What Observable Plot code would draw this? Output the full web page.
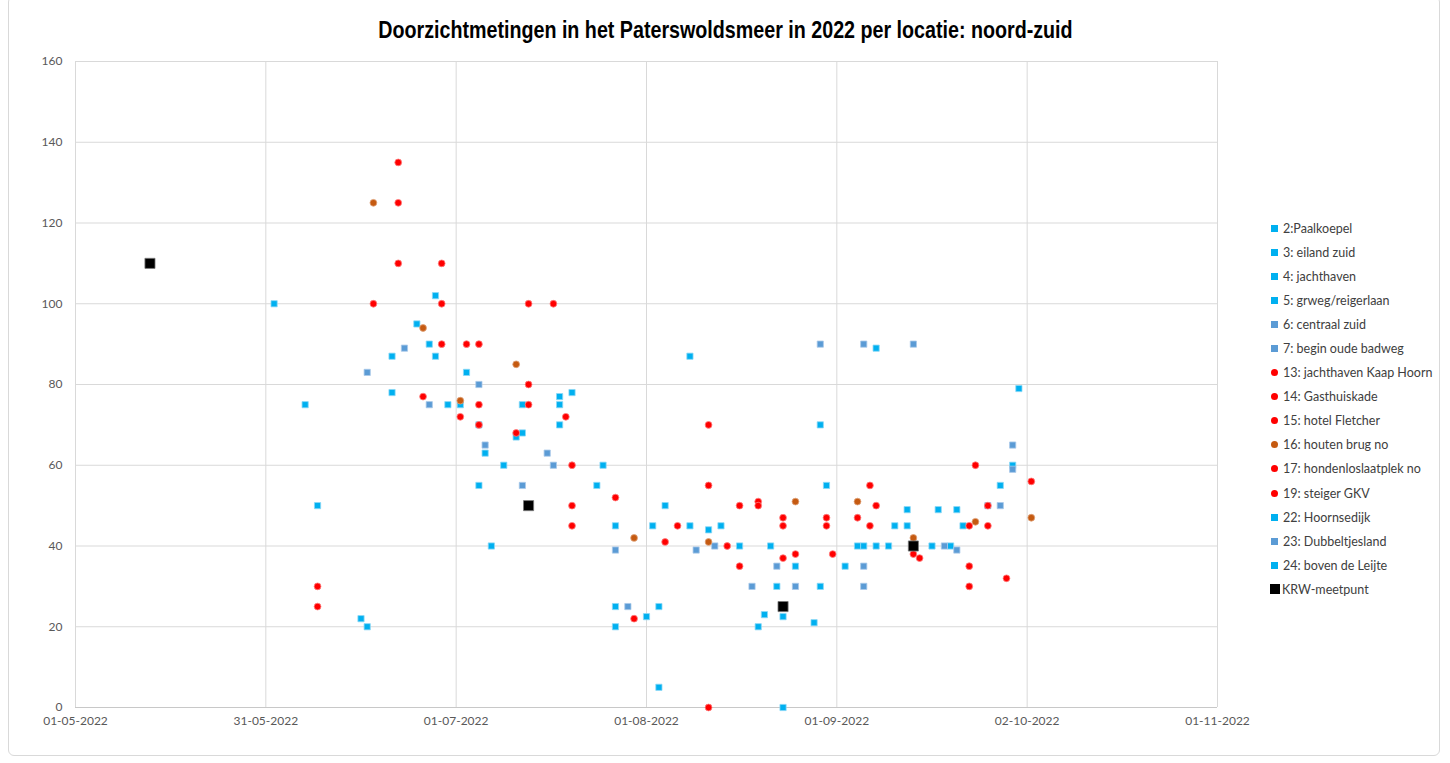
<!DOCTYPE html>
<html>
<head>
<meta charset="utf-8">
<script src="https://cdn.jsdelivr.net/npm/d3@7"></script>
<script src="https://cdn.jsdelivr.net/npm/@observablehq/plot@0.6"></script>
<style>
  html, body { margin: 0; padding: 0; background: #fff; }
  #wrap { position: relative; width: 1450px; height: 763px; overflow: hidden; }
  #frame { position: absolute; left: 8px; top: -4px; width: 1432px; height: 760px; border: 1px solid #d9d9d9; border-radius: 6px; box-sizing: border-box; }
  #title { position: relative; height: 48px; box-sizing: border-box; padding-top: 17px; text-align: center; }
  #title span { display: inline-block; transform: scaleX(0.82); transform-origin: center;
    font-family: "Liberation Sans Narrow", "Arial Narrow", "Liberation Sans", Arial, sans-serif; font-weight: bold; font-size: 24px; line-height: 26px; color: #000; white-space: nowrap; }
  #chart { position: relative; }
  #legend { position: absolute; left: 1271px; top: 216px; font-family: Lato, "Open Sans", sans-serif; font-size: 12.5px; color: #404040; }
  .item { height: 24.1px; display: flex; align-items: center; white-space: nowrap; }
  .mk { display: inline-block; width: 7px; height: 7px; margin-right: 5px; flex: none; }
  .mk.circle { border-radius: 50%; }
  .mk.big { width: 10px; height: 10px; margin-right: 2px; margin-left: -1px; }
</style>
</head>
<body>
<div id="wrap">
  <div id="frame"></div>
  <div id="title"><span></span></div>
  <div id="chart"></div>
  <div id="legend"></div>
</div>
<script>
// ---------- data ----------
const chartTitle = "Doorzichtmetingen in het Paterswoldsmeer in 2022 per locatie: noord-zuid";

const xDomain = ["2022-05-01", "2022-11-01"];
const xTickLabels = ["01-05-2022", "31-05-2022", "01-07-2022", "01-08-2022", "01-09-2022", "02-10-2022", "01-11-2022"];
const yTicks = [0, 20, 40, 60, 80, 100, 120, 140, 160];

// Series names (legend order)
const seriesNames = ["2:Paalkoepel", "3: eiland zuid", "4: jachthaven", "5: grweg/reigerlaan", "6: centraal zuid",
  "7: begin oude badweg", "13: jachthaven Kaap Hoorn", "14: Gasthuiskade", "15: hotel Fletcher", "16: houten brug no",
  "17: hondenloslaatplek no", "19: steiger GKV", "22: Hoornsedijk", "23: Dubbeltjesland", "24: boven de Leijte", "KRW-meetpunt"];
const seriesGroup = ["lightblue", "lightblue", "lightblue", "lightblue", "steel", "steel", "red", "red", "red", "brown",
  "red", "red", "lightblue", "steel", "lightblue", "krw"];

// Locations 2, 3, 4, 5, 22, 24 (light blue squares)
const lightBlue = [
  ["2022-06-02", 100], ["2022-06-07", 75], ["2022-06-09", 50], ["2022-06-16", 22], ["2022-06-17", 20],
  ["2022-06-21", 87], ["2022-06-21", 78], ["2022-06-25", 95], ["2022-06-27", 90], ["2022-06-28", 102],
  ["2022-06-28", 87], ["2022-06-30", 75], ["2022-07-02", 75], ["2022-07-03", 83], ["2022-07-05", 70],
  ["2022-07-05", 55], ["2022-07-06", 63], ["2022-07-07", 40], ["2022-07-09", 60], ["2022-07-11", 67],
  ["2022-07-12", 75], ["2022-07-12", 68], ["2022-07-18", 77], ["2022-07-18", 75], ["2022-07-18", 70],
  ["2022-07-20", 78], ["2022-07-24", 55], ["2022-07-25", 60], ["2022-07-27", 45], ["2022-07-27", 25],
  ["2022-07-27", 20], ["2022-08-01", 22.5], ["2022-08-02", 45], ["2022-08-03", 25], ["2022-08-03", 5],
  ["2022-08-04", 50], ["2022-08-08", 87], ["2022-08-08", 45], ["2022-08-11", 44], ["2022-08-13", 45],
  ["2022-08-16", 40], ["2022-08-19", 20], ["2022-08-20", 23], ["2022-08-21", 40], ["2022-08-22", 30],
  ["2022-08-23", 22.5], ["2022-08-23", 0], ["2022-08-25", 35], ["2022-08-28", 21], ["2022-08-29", 70],
  ["2022-08-29", 30], ["2022-08-30", 55], ["2022-09-02", 35], ["2022-09-04", 40], ["2022-09-05", 40],
  ["2022-09-07", 89], ["2022-09-07", 40], ["2022-09-09", 40], ["2022-09-10", 45], ["2022-09-12", 49],
  ["2022-09-12", 45], ["2022-09-16", 40], ["2022-09-17", 49], ["2022-09-19", 40], ["2022-09-20", 49],
  ["2022-09-21", 45], ["2022-09-27", 55], ["2022-09-29", 60], ["2022-09-30", 79]
];

// Locations 6, 7, 23 (steel blue squares)
const steelBlue = [
  ["2022-06-17", 83], ["2022-06-23", 89], ["2022-06-27", 75], ["2022-07-05", 80], ["2022-07-06", 65],
  ["2022-07-12", 55], ["2022-07-16", 63], ["2022-07-17", 60], ["2022-07-27", 39], ["2022-07-29", 25],
  ["2022-08-09", 39], ["2022-08-12", 40], ["2022-08-18", 30], ["2022-08-22", 35], ["2022-08-25", 30],
  ["2022-08-29", 90], ["2022-09-05", 90], ["2022-09-05", 35], ["2022-09-05", 30], ["2022-09-13", 90],
  ["2022-09-18", 40], ["2022-09-20", 39], ["2022-09-25", 50], ["2022-09-27", 50], ["2022-09-29", 65],
  ["2022-09-29", 59]
];

// Locations 13, 14, 15, 17, 19 (red circles)
const red = [
  ["2022-06-09", 30], ["2022-06-09", 25], ["2022-06-18", 100], ["2022-06-22", 135], ["2022-06-22", 125],
  ["2022-06-22", 110], ["2022-06-26", 77], ["2022-06-29", 110], ["2022-06-29", 100], ["2022-06-29", 90],
  ["2022-07-02", 72], ["2022-07-03", 90], ["2022-07-05", 90], ["2022-07-05", 75], ["2022-07-05", 70],
  ["2022-07-11", 68], ["2022-07-13", 100], ["2022-07-13", 80], ["2022-07-13", 75], ["2022-07-17", 100],
  ["2022-07-19", 72], ["2022-07-20", 60], ["2022-07-20", 50], ["2022-07-20", 45], ["2022-07-27", 52],
  ["2022-07-30", 22], ["2022-08-04", 41], ["2022-08-06", 45], ["2022-08-11", 70], ["2022-08-11", 55],
  ["2022-08-11", 0], ["2022-08-14", 40], ["2022-08-16", 50], ["2022-08-16", 35], ["2022-08-19", 51],
  ["2022-08-19", 50], ["2022-08-23", 47], ["2022-08-23", 45], ["2022-08-23", 37], ["2022-08-25", 38],
  ["2022-08-30", 47], ["2022-08-30", 45], ["2022-08-31", 38], ["2022-09-04", 47], ["2022-09-06", 55],
  ["2022-09-06", 45], ["2022-09-07", 50], ["2022-09-13", 38], ["2022-09-14", 37], ["2022-09-22", 45],
  ["2022-09-22", 35], ["2022-09-22", 30], ["2022-09-23", 60], ["2022-09-25", 50], ["2022-09-25", 45],
  ["2022-09-28", 32], ["2022-10-02", 56]
];

// Location 16 (brown circles)
const brown = [
  ["2022-06-18", 125], ["2022-06-26", 94], ["2022-07-02", 76], ["2022-07-11", 85], ["2022-07-30", 42],
  ["2022-08-11", 41], ["2022-08-25", 51], ["2022-09-04", 51], ["2022-09-13", 42], ["2022-09-23", 46],
  ["2022-10-02", 47]
];

// KRW-meetpunt (black squares)
const krw = [["2022-05-13", 110], ["2022-07-13", 50], ["2022-08-23", 25], ["2022-09-13", 40]];

// ---------- styles ----------
const groupStyle = {
  lightblue: {fill: "#00B0F0", stroke: "#8ad8f6", symbol: "square", r: 3.5},
  steel: {fill: "#5B9BD5", stroke: "#a9c9ea", symbol: "square", r: 3.5},
  red: {fill: "#FF0000", stroke: "#ff8080", symbol: "circle", r: 3.4},
  brown: {fill: "#C55A11", stroke: "#dfa27a", symbol: "circle", r: 3.4},
  krw: {fill: "#000000", stroke: "#777777", symbol: "square", r: 5.7}
};

const parse = d3.utcParse("%Y-%m-%d");
const rows = arr => arr.map(([d, v]) => ({date: parse(d), value: v}));

const x0 = parse(xDomain[0]), x1 = parse(xDomain[1]);
const xTicks = xTickLabels.map((_, i) => new Date(+x0 + i * (x1 - x0) / (xTickLabels.length - 1)));
const labelOf = d => xTickLabels[xTicks.findIndex(t => Math.abs(t - d) < 1000)];

const dots = (arr, g) => Plot.dot(rows(arr), {x: "date", y: "value", symbol: groupStyle[g].symbol, r: groupStyle[g].r,
  fill: groupStyle[g].fill, stroke: groupStyle[g].stroke, strokeWidth: 0.8});

document.querySelector("#title span").textContent = chartTitle;

const plot = Plot.plot({
  width: 1450,
  height: 715,
  marginLeft: 75,
  marginRight: 233,
  marginTop: 13,
  marginBottom: 56,
  style: {fontFamily: "Lato, 'Open Sans', sans-serif", fontSize: "12px", color: "#595959", background: "transparent", overflow: "visible"},
  x: {type: "utc", domain: [x0, x1], label: null},
  y: {domain: [0, 160], label: null},
  marks: [
    Plot.gridX({ticks: xTicks, stroke: "#d9d9d9", strokeOpacity: 1}),
    Plot.gridY({ticks: yTicks, stroke: "#d9d9d9", strokeOpacity: 1}),
    Plot.ruleY([0], {stroke: "#c8c8c8"}),
    Plot.axisY({ticks: yTicks, tickSize: 0, tickPadding: 13, tickFormat: d => String(d), fill: "#595959", label: null}),
    Plot.axisX({ticks: xTicks, tickSize: 0, tickPadding: 9, tickFormat: labelOf, fill: "#595959", label: null}),
    dots(lightBlue, "lightblue"),
    dots(steelBlue, "steel"),
    dots(brown, "brown"),
    dots(red, "red"),
    dots(krw, "krw")
  ]
});
document.getElementById("chart").appendChild(plot);

// legend
const legend = document.getElementById("legend");
seriesNames.forEach((name, i) => {
  const g = seriesGroup[i];
  const st = groupStyle[g];
  const item = document.createElement("div");
  item.className = "item";
  const mk = document.createElement("span");
  mk.className = "mk" + (st.symbol === "circle" ? " circle" : "") + (g === "krw" ? " big" : "");
  mk.style.background = st.fill;
  item.appendChild(mk);
  item.appendChild(document.createTextNode(name));
  legend.appendChild(item);
});
</script>
</body>
</html>
